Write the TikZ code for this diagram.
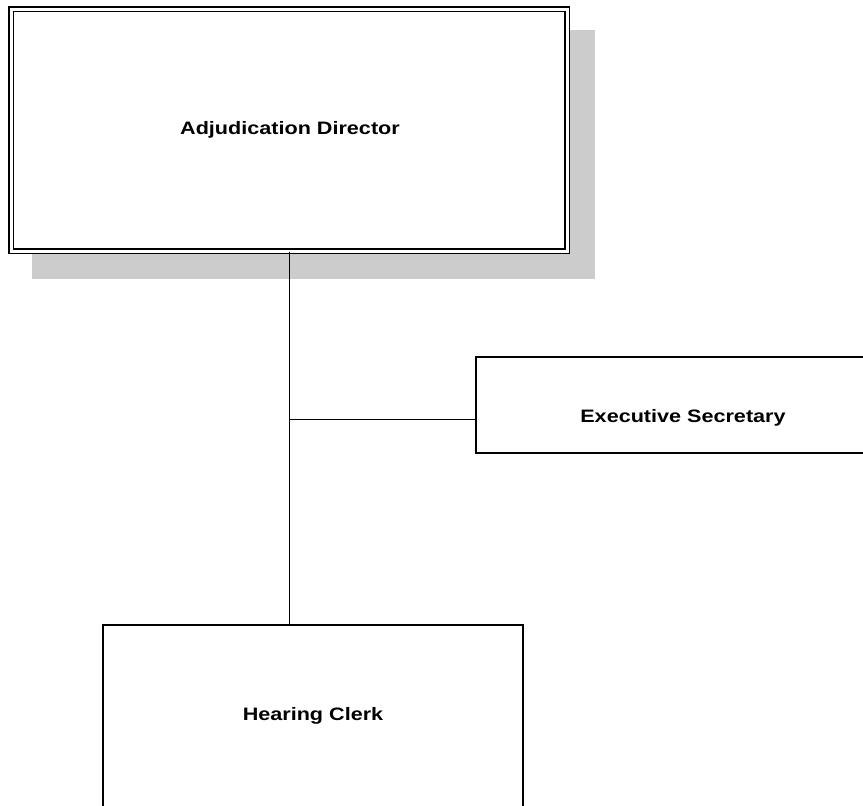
\documentclass[tikz,border=0pt]{standalone}
\usepackage{fontspec}
\setmainfont{Liberation Sans}[FakeStretch=1.2]
\definecolor{shadowgray}{HTML}{CCCCCC}
\tikzset{
  unitbox/.style={draw, line width=1.4pt, inner sep=0pt},
  dirbox/.style={draw, double, double distance=3pt, line width=1.3pt, fill=white, inner sep=0pt},
  unitname/.style={font=\fontsize{18}{21}\selectfont\bfseries, anchor=base, inner sep=0pt},
  link/.style={line width=0.9pt}
}
\begin{document}
\begin{tikzpicture}[x=1pt,y=-1pt]
  \useasboundingbox (0,0) rectangle (863,806);
  \clip (0,0) rectangle (863,806);

  % shadow behind the director
  \fill[shadowgray] (32,30) rectangle (595,279);
  \node[dirbox, minimum width=556pt, minimum height=242pt] (dir) at (289,130) {};
  \node[unitbox, minimum width=414pt, minimum height=96pt] (sec) at (683,405) {};
  \node[unitbox, minimum width=420pt, minimum height=210pt] (clerk) at (313,730) {};

  \node[unitname] (dirname) at (290,134) {Adjudication Director};
  \node[unitname] (secname) at (683,422) {Executive Secretary};
  \node[unitname] (clerkname) at (313,720) {Hearing Clerk};

  \coordinate (branch) at (dir.south |- 0,419);
  \draw[link] (dir.south) -- (dir.south |- clerk.north);
  \draw[link] (branch) -- (branch -| sec.west);
\end{tikzpicture}
\end{document}
